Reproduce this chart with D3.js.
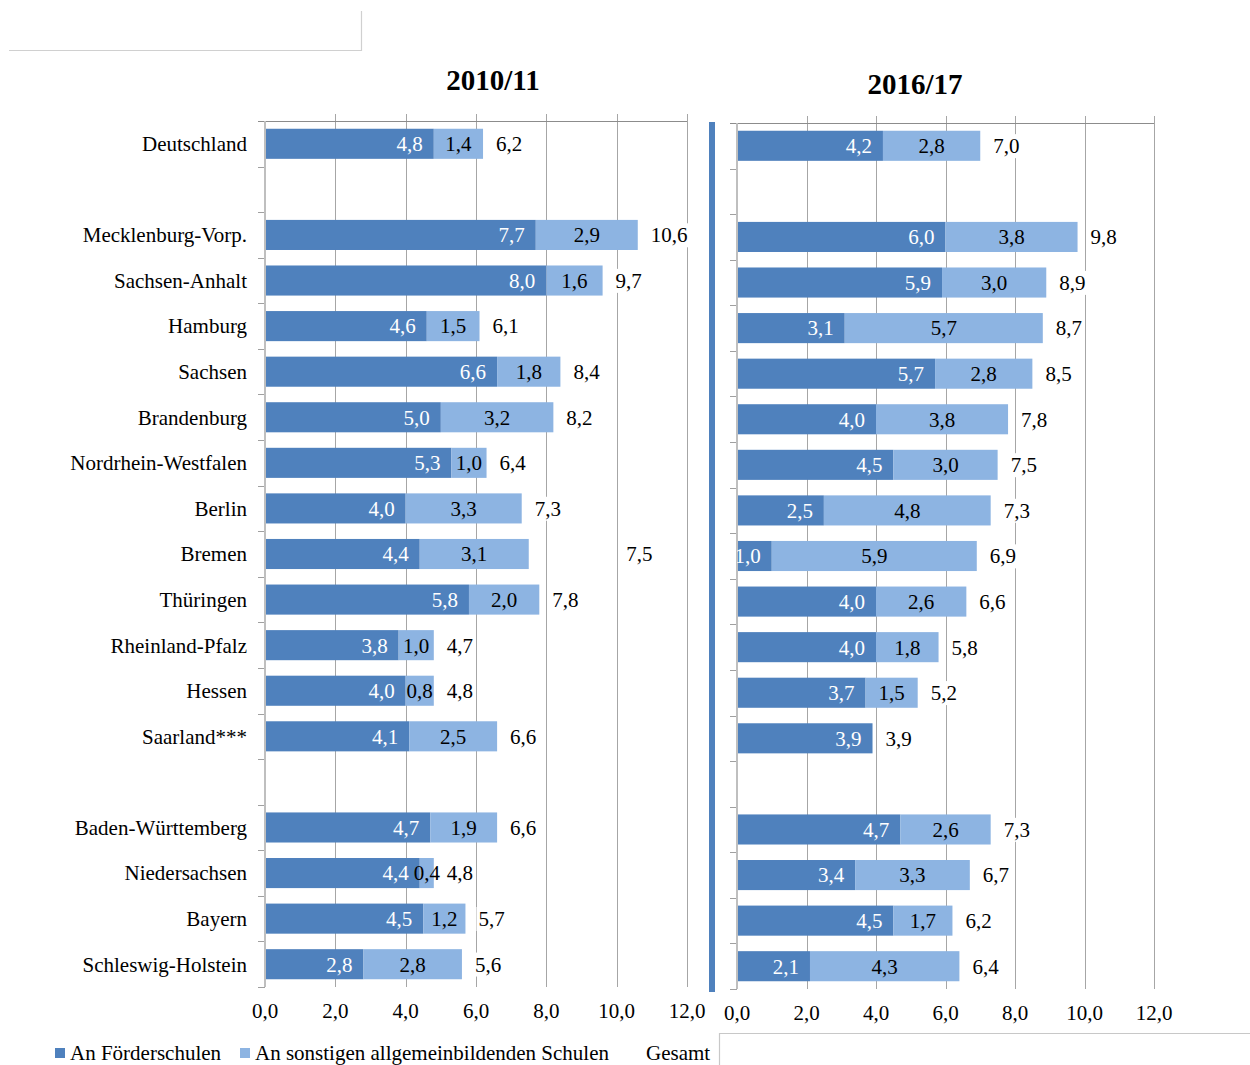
<!DOCTYPE html>
<html><head><meta charset="utf-8">
<script src="https://cdn.jsdelivr.net/npm/d3@7/dist/d3.min.js"></script>
<style>body{margin:0;background:#fff}svg{display:block;font-family:"Liberation Serif","Times New Roman",serif}</style>
</head><body><svg id="c" width="1250" height="1065"></svg>
<script>
const categories = ["Deutschland","_gap1","Mecklenburg-Vorp.","Sachsen-Anhalt","Hamburg","Sachsen","Brandenburg","Nordrhein-Westfalen","Berlin","Bremen","Thüringen","Rheinland-Pfalz","Hessen","Saarland***","_gap2","Baden-Württemberg","Niedersachsen","Bayern","Schleswig-Holstein"];
const foerder2010 = [4.8,null,7.7,8.0,4.6,6.6,5.0,5.3,4.0,4.4,5.8,3.8,4.0,4.1,null,4.7,4.4,4.5,2.8];
const sonstige2010 = [1.4,null,2.9,1.6,1.5,1.8,3.2,1.0,3.3,3.1,2.0,1.0,0.8,2.5,null,1.9,0.4,1.2,2.8];
const gesamt2010 = [6.2,null,10.6,9.7,6.1,8.4,8.2,6.4,7.3,7.5,7.8,4.7,4.8,6.6,null,6.6,4.8,5.7,5.6];
const foerder2016 = [4.2,null,6.0,5.9,3.1,5.7,4.0,4.5,2.5,1.0,4.0,4.0,3.7,3.9,null,4.7,3.4,4.5,2.1];
const sonstige2016 = [2.8,null,3.8,3.0,5.7,2.8,3.8,3.0,4.8,5.9,2.6,1.8,1.5,null,null,2.6,3.3,1.7,4.3];
const gesamt2016 = [7.0,null,9.8,8.9,8.7,8.5,7.8,7.5,7.3,6.9,6.6,5.8,5.2,3.9,null,7.3,6.7,6.2,6.4];
const xTicks = [0,2,4,6,8,10,12];
const titles = ["2010/11","2016/17"];
const legendLabels = ["An Förderschulen","An sonstigen allgemeinbildenden Schulen","Gesamt"];

const DARK="#4f81bd", LIGHT="#8db4e2", GRID="#a6a6a6";
const fmt = v => d3.format(".1f")(v).replace(".", ",");
const svg = d3.select("#c");

// decorative boxes
svg.append("path").attr("d","M9,50.5H361.5V11").attr("fill","none").attr("stroke","#d0d0d0").attr("stroke-width",1.2);
svg.append("path").attr("d","M719.5,1065V1033.5H1250").attr("fill","none").attr("stroke","#c8c8c8").attr("stroke-width",1.2);

// Bremen 2010 total label sits displaced in the reference (value units)
const totalLabelShift = [{}, {}];
totalLabelShift[0]["Bremen"] = 2.4;

function panel(idx, x0, x1, y0, y1, f, s, g, titleX, titleY, showCats) {
  const x = d3.scaleLinear().domain([0,12]).range([x0,x1]);
  const y = d3.scaleBand().domain(categories).range([y0,y1]).paddingInner(0.34).paddingOuter(0.17);
  const gp = svg.append("g");
  const clipId = "clip"+idx;
  gp.append("clipPath").attr("id",clipId).append("rect").attr("x",x0).attr("y",y0-10).attr("width",x1-x0+200).attr("height",y1-y0+20);
  // gridlines
  gp.selectAll(".grid").data(xTicks.slice(1)).join("line")
    .attr("x1",d=>Math.round(x(d))+0.5).attr("x2",d=>Math.round(x(d))+0.5)
    .attr("y1",y0-7).attr("y2",y1).attr("stroke",GRID).attr("stroke-width",1);
  // top line
  gp.append("line").attr("x1",x0-7).attr("x2",x1).attr("y1",y0+0.5).attr("y2",y0+0.5).attr("stroke","#8c8c8c").attr("stroke-width",1);
  // category ticks
  const step = y.step();
  const bounds = d3.range(categories.length+1).map(i=>y0+i*step);
  gp.selectAll(".ctick").data(bounds.slice(1)).join("line")
    .attr("x1",x0-7).attr("x2",x0).attr("y1",d=>Math.round(d)+0.5).attr("y2",d=>Math.round(d)+0.5)
    .attr("stroke","#a0a0a0");
  // bars
  const rows = categories.map((c,i)=>({c,f:f[i],s:s[i],g:g[i]})).filter(d=>d.f!=null);
  gp.selectAll(".bd").data(rows).join("rect")
    .attr("x",x(0)).attr("y",d=>y(d.c)).attr("width",d=>x(d.f)-x(0)).attr("height",y.bandwidth()).attr("fill",DARK);
  gp.selectAll(".bl").data(rows.filter(d=>d.s!=null)).join("rect")
    .attr("x",d=>x(d.f)).attr("y",d=>y(d.c)).attr("width",d=>x(d.f+d.s)-x(d.f)).attr("height",y.bandwidth()).attr("fill",LIGHT);
  // category axis line
  gp.append("line").attr("x1",x0).attr("x2",x0).attr("y1",y0).attr("y2",y1).attr("stroke","#bfbfbf").attr("stroke-width",2);
  // labels
  const fs = 21;
  const lab = gp.append("g").attr("clip-path","url(#"+clipId+")").attr("font-size",fs);
  lab.selectAll(".ld").data(rows).join("text")
    .attr("x",d=>x(d.f)-11).attr("y",d=>y(d.c)+y.bandwidth()/2).attr("dy","0.35em")
    .attr("text-anchor","end").attr("fill","#fff").text(d=>fmt(d.f));
  lab.selectAll(".ll").data(rows.filter(d=>d.s!=null)).join("text")
    .attr("x",d=>(x(d.f)+x(d.f+d.s))/2).attr("y",d=>y(d.c)+y.bandwidth()/2).attr("dy","0.35em")
    .attr("text-anchor","middle").attr("fill","#000").text(d=>fmt(d.s));
  const tg = lab.selectAll(".lt").data(rows).join("g");
  tg.append("rect").attr("class","bg").attr("fill","#fff");
  tg.append("text")
    .attr("x",d=>x(d.f+(d.s||0)+(totalLabelShift[idx][d.c]||0))+13).attr("y",d=>y(d.c)+y.bandwidth()/2).attr("dy","0.35em")
    .attr("text-anchor","start").attr("fill","#000").text(d=>fmt(d.g));
  tg.each(function(){
    const t = d3.select(this).select("text").node().getBBox();
    d3.select(this).select("rect").attr("x",t.x-2).attr("y",t.y).attr("width",t.width+4).attr("height",t.height);
  });
  // x axis labels
  gp.selectAll(".xt").data(xTicks).join("text")
    .attr("x",d=>x(d)).attr("y",y1+31).attr("text-anchor","middle").attr("font-size",fs).attr("fill","#000").text(d=>fmt(d));
  // category labels
  if (showCats) {
    gp.selectAll(".cl").data(categories.filter(c=>!c.startsWith("_"))).join("text")
      .attr("x",x0-18).attr("y",d=>y(d)+y.bandwidth()/2).attr("dy","0.35em").attr("text-anchor","end")
      .attr("font-size",fs).attr("fill","#000").text(d=>d);
  }
  // title
  gp.append("text").attr("x",titleX).attr("y",titleY).attr("text-anchor","middle").attr("font-size",29).attr("font-weight","bold").text(titles[idx]);
}

panel(0, 265, 687, 121, 987, foerder2010, sonstige2010, gesamt2010, 493, 90, true);
panel(1, 737, 1154, 123, 989, foerder2016, sonstige2016, gesamt2016, 915, 94, false);

// separator bar
svg.append("rect").attr("x",709).attr("y",122).attr("width",6).attr("height",870).attr("fill",DARK);

// legend
const lg = svg.append("g").attr("font-size",21);
const legendX = [55, 240, 646];
const legendCol = [DARK, LIGHT, null];
legendLabels.forEach((t,i)=>{
  if (legendCol[i]) lg.append("rect").attr("x",legendX[i]).attr("y",1048).attr("width",10).attr("height",10).attr("fill",legendCol[i]);
  lg.append("text").attr("x",legendCol[i]?legendX[i]+15:legendX[i]).attr("y",1060).text(t);
});
</script></body></html>
